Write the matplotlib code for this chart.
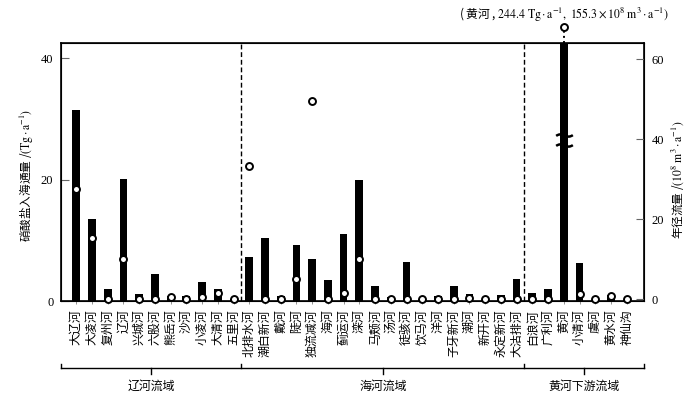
import matplotlib.pyplot as plt
import matplotlib.transforms as mtransforms
from matplotlib.path import Path
import numpy as np

plt.rcParams['font.family'] = ['Liberation Serif', 'Noto Sans CJK SC']
plt.rcParams['mathtext.fontset'] = 'stix'
CJK = 'Noto Sans CJK SC'

# rivers, grouped by basin
rivers = ['大辽河', '大凌河', '复州河', '辽河', '兴城河', '六股河', '熊岳河', '沙河',
          '小凌河', '大清河', '五里河',
          '北排水河', '潮白新河', '戴河', '陡河', '独流减河', '海河', '蓟运河', '滦河',
          '马颊河', '汤河', '徒骇河', '饮马河', '洋河', '子牙新河', '潮河', '新开河',
          '永定新河', '大沽排河',
          '白浪河', '广利河', '黄河', '小清河', '虞河', '黄水河', '神仙沟']
basins = ['辽河流域', '海河流域', '黄河下游流域']
basin_sizes = [11, 18, 7]

# nitrate flux to sea (Tg/a), left axis
nitrate = [31.5, 13.5, 2.0, 20.2, 1.2, 4.5, 0.9, 0.9, 3.2, 1.9, 0.3,
           7.3, 10.4, 0.8, 9.3, 7.0, 3.5, 11.1, 19.9, 2.4, 0.7, 6.5, 0.3, 0.8,
           2.5, 1.1, 0.1, 1.0, 3.6,
           1.3, 2.05, 244.4, 6.3, 0.2, 1.0, 0.2]
# annual runoff (10^8 m3/a), right axis
runoff = [27.5, 15.4, 0.0, 10.2, 0.0, 0.0, 0.7, 0.0, 0.7, 1.5, 0.0,
          33.4, 0.1, 0.0, 5.1, 49.6, 0.0, 1.6, 10.2, 0.0, 0.0, 0.2, 0.0, 0.0,
          0.0, 0.4, 0.0, 0.0, 0.0,
          0.0, 0.0, 155.3, 1.3, 0.0, 0.8, 0.0]

W, H = 693, 404
fig = plt.figure(figsize=(W / 100, H / 100), dpi=100)
ax = fig.add_axes([61 / W, 103 / H, 583 / W, 258.3 / H])

x = np.arange(len(rivers))
ax.bar(x, nitrate, width=0.49, color='black', zorder=2)
ax.set_xlim(-0.97, 36.1)
ax.set_ylim(0, 42.6)
ax.set_yticks([0, 20, 40])
ax.tick_params(axis='y', direction='in', length=6, pad=5.5, labelsize=9, color='0.4')
ax.set_xticks(x)
ax.set_xticklabels(rivers, rotation=90, fontsize=8.6, family=CJK)
ax.tick_params(axis='x', direction='out', length=2, pad=4, width=0.6, color='0.5')
for s in ax.spines.values():
    s.set_linewidth(1.2)

# basin separators
edges = np.cumsum(basin_sizes)[:-1] - 0.5
for e in edges:
    ax.axvline(e, color='black', ls=(0, (3.5, 2)), lw=1, zorder=1)

ax2 = ax.twinx()
ax2.set_ylim(-0.4, 64.2)
ax2.set_yticks([0, 20, 40, 60])
ax2.tick_params(axis='y', direction='in', length=6, pad=5.5, labelsize=9, color='0.4')
shown = np.array(runoff, float)
top = ax2.get_ylim()[1]
shown[shown > top] = np.nan
ax2.plot(x, shown, 'o', ms=5, mfc='white', mec='black', mew=1.4,
         clip_on=False, zorder=5)

# Huanghe: off-scale values
hh = rivers.index('黄河')
trans = mtransforms.blended_transform_factory(ax.transData, ax.transAxes)
ax.plot([hh, hh], [1.0, 1.045], color='black', ls=':', lw=1.4,
        transform=trans, clip_on=False)
ax.plot([hh], [1.06], 'o', ms=5, mfc='white', mec='black', mew=1.4,
        transform=trans, clip_on=False, zorder=6)
wave = Path([(-1, -0.05), (-0.55, 0.3), (0, 0), (0.55, -0.3), (1, 0.05)],
            [Path.MOVETO, Path.CURVE3, Path.CURVE3, Path.CURVE3, Path.CURVE3])
ax.plot([hh, hh], [0.643, 0.604], ls='none', marker=wave, ms=12, mec='black',
        mew=1.8, mfc='none', transform=trans, clip_on=False, zorder=6)
ax.text(hh, 1.107,
        r'( 黄河 , $\mathrm{244.4\ Tg\cdot a^{-1},\ 155.3\times 10^{8}\ m^{3}\cdot a^{-1})}$',
        transform=trans, ha='center', va='center', fontsize=8.5, family=CJK)

# axis titles
fig.text(27 / W, 1 - 175 / H, r'硝酸盐入海通量 /$\mathrm{(Tg\cdot a^{-1})}$',
         rotation=90, ha='center', va='center', fontsize=8.4, family=CJK)
fig.text(678 / W, 1 - 180 / H, r'年径流量 /$\mathrm{(10^{8}\ m^{3}\cdot a^{-1})}$',
         rotation=90, ha='center', va='center', fontsize=8.4, family=CJK)

# basin brackets under the labels
bt = mtransforms.blended_transform_factory(ax.transData, fig.transFigure)
yb = 1 - 368.3 / H
bounds = [ax.get_xlim()[0]] + list(edges) + [ax.get_xlim()[1]]
ax.plot([bounds[0], bounds[-1]], [yb, yb], color='black', lw=1,
        transform=bt, clip_on=False)
for b in bounds:
    ax.plot([b, b], [yb, yb + 4 / H], color='black', lw=1, transform=bt, clip_on=False)
for name, a, b in zip(basins, bounds[:-1], bounds[1:]):
    c = (a + b) / 2
    ax.plot([c, c], [yb, yb - 6 / H], color='black', lw=1, transform=bt, clip_on=False)
    ax.text(c, 1 - 386.7 / H, name, transform=bt, ha='center', va='center',
            fontsize=8.6, family=CJK)

fig.savefig('out.png', dpi=100)
